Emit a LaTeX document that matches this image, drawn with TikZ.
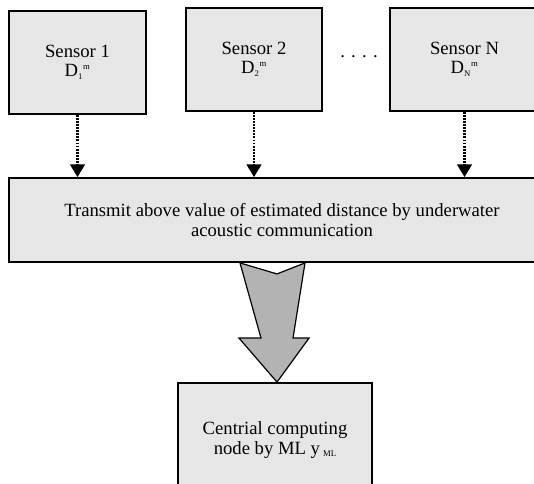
\documentclass[tikz,border=0pt]{standalone}
\usepackage{fontspec}
\setmainfont{Liberation Serif}
\usetikzlibrary{arrows.meta, calc}
\definecolor{boxgray}{RGB}{230,230,230}
\definecolor{arrowgray}{RGB}{179,179,179}
\newcommand{\tinyidx}[1]{{\fontsize{6.5}{6.5}\selectfont #1}}
\tikzset{
  box/.style={draw, line width=1.4pt, fill=boxgray, align=center,
    font=\fontsize{14}{14.5}\selectfont, inner sep=0pt},
  feed/.style={line width=1.7pt, dash pattern=on 1.4pt off 0.9pt,
    -{Triangle[width=11pt,length=9.5pt]}},
  fat/.style={draw, line width=0.9pt, fill=arrowgray, line join=miter}
}

\begin{document}
\begin{tikzpicture}[x=0.75pt, y=-0.75pt]
            \clip (0,0) rectangle (534,483);

            % sensors
            \node[box, minimum width=102.75pt, minimum height=77.25pt] (S1) at (77.5,62.5)
              {Sensor 1\\ D\textsubscript{\tinyidx{1}}\textsuperscript{\tinyidx{m}}};
            \node[box, minimum width=102pt, minimum height=77.25pt] (S2) at (254,59.5)
              {Sensor 2\\ D\textsubscript{\tinyidx{2}}\textsuperscript{\tinyidx{m}}};
            \node[box, minimum width=111.75pt, minimum height=77.25pt] (SN) at (464.5,59.5)
              {Sensor N\\ D\textsubscript{\tinyidx{N}}\textsuperscript{\tinyidx{m}}};
            \node[font=\fontsize{14}{14}\selectfont] (dots) at (359,57) {.\,\,.\,\,.\,\,.};

            % transmit and central node
            \node[box, minimum width=409.5pt, minimum height=63pt] (T) at (282,220)
              {Transmit above value of estimated distance by underwater\\ acoustic communication};
            \node[box, minimum width=145.5pt, minimum height=85.5pt] (C) at (275,440)
              {Centrial computing\\ node by ML y\,\raisebox{-1.5pt}{\tinyidx{ML}}};

            \draw[feed] (S1.south) -- (S1.south |- T.north);
            \draw[feed] (S2.south) -- (S2.south |- T.north);
            \draw[feed] (SN.south) -- (SN.south |- T.north);

            % fat arrow down to the central node
            \coordinate (tip) at ($(C.north)+(2,0)$);
            \draw[fat] ($(tip |- T.south)+(-37,0)$) -- ($(tip |- T.south)+(0,11)$)
              -- ($(tip |- T.south)+(28,0)$) -- ($(tip)+(16,-44)$) -- ($(tip)+(32,-44)$)
              -- (tip) -- ($(tip)+(-38,-44)$) -- ($(tip)+(-16,-44)$) -- cycle;
        \end{tikzpicture}
\end{document}
